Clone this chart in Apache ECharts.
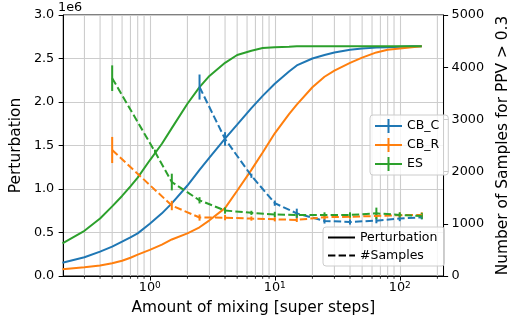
<!DOCTYPE html>
<html><head><meta charset="utf-8">
<script src="https://cdn.jsdelivr.net/npm/echarts@6/dist/echarts.min.js"></script>
<style>html,body{margin:0;padding:0;background:#fff}#c{width:518px;height:324px}</style>
</head><body><div id="c"></div>
<script>
// Perturbation (units of 1e6), left axis
const xPert = [0.2, 0.3, 0.4, 0.5, 0.6, 0.7, 0.8, 1.0, 1.25, 1.5, 2, 2.5, 3, 4, 5, 6.5, 8, 10, 13, 15, 20, 25, 30, 40, 50, 65, 80, 100, 125, 150];
const pertCBC = [0.153,0.215,0.28,0.337,0.394,0.445,0.49,0.60,0.72,0.835,1.04,1.22,1.36,1.58,1.74,1.93,2.07,2.21,2.35,2.42,2.5,2.54,2.57,2.6,2.615,2.625,2.63,2.635,2.64,2.64];
const pertCBR = [0.077,0.10,0.12,0.146,0.175,0.21,0.245,0.30,0.36,0.42,0.49,0.56,0.64,0.78,0.98,1.22,1.42,1.64,1.86,1.97,2.17,2.29,2.36,2.45,2.51,2.57,2.6,2.615,2.63,2.64];
const pertES  = [0.375,0.52,0.66,0.80,0.92,1.03,1.13,1.33,1.52,1.70,1.98,2.17,2.30,2.45,2.54,2.59,2.62,2.63,2.635,2.64,2.64,2.64,2.64,2.64,2.64,2.64,2.64,2.64,2.64,2.64];
// #Samples, right axis
const xCBC = [2.5, 4, 6.5, 10, 15, 25, 40, 65, 100, 150];
const sampCBC = [3620, 2625, 1920, 1395, 1200, 1055, 1035, 1060, 1100, 1125];
const errCBC  = [240, 130, 40, 50, 90, 50, 50, 50, 50, 40];
const xCBR = [0.5, 1.5, 2.5, 4, 6.5, 10, 15, 25, 40, 65, 100, 150];
const sampCBR = [2414, 1350, 1120, 1118, 1100, 1086, 1075, 1125, 1136, 1150, 1165, 1170];
const errCBR  = [250, 90, 60, 50, 40, 40, 40, 40, 40, 40, 50, 50];
const xES = [0.5, 1.1, 1.5, 2.5, 4, 6.5, 10, 15, 25, 40, 65, 100, 150];
const sampES = [3790, 2380, 1800, 1450, 1255, 1210, 1180, 1170, 1170, 1170, 1200, 1170, 1150];
const errES  = [245, 40, 160, 60, 60, 40, 50, 50, 50, 50, 110, 50, 60];
// minor log grid positions
const minorX = [0.3,0.4,0.5,0.6,0.7,0.8,0.9,2,3,4,5,6,7,8,9,20,30,40,50,60,70,80,90,200];
const leftTicks = [0, 0.5, 1.0, 1.5, 2.0, 2.5, 3.0];
const rightTicks = [0, 1000, 2000, 3000, 4000, 5000];
const names = ['CB_C', 'CB_R', 'ES'];
const colors = ['#1f77b4', '#ff7f0e', '#2ca02c'];

const FONT = 'DejaVu Sans';
const FS = 12.8;      // tick labels
const FSN = 15.4;     // axis titles
const FSL = 12.5;     // legend
const LW = 2.0;
const DASH = [7.4, 3.2];
const GRIDC = '#cdcdcd';
const GW = 1.1;

function zip(xs, ys) { return xs.map((x, i) => [x, ys[i]]); }
function zip3(xs, ys, es) { return xs.map((x, i) => [x, ys[i], es[i]]); }

const pert = [pertCBC, pertCBR, pertES];
const sx = [xCBC, xCBR, xES], sy = [sampCBC, sampCBR, sampES], se = [errCBC, errCBR, errES];

const series = [];
series.push({
  type: 'custom', name: 'minorgrid', xAxisIndex: 0, yAxisIndex: 0, z: 1, silent: true, clip: false,
  data: minorX.map(v => [v]),
  renderItem: function (params, api) {
    const b = api.coord([api.value(0), leftTicks[0]]);
    const t = api.coord([api.value(0), leftTicks[leftTicks.length - 1]]);
    if (b[0] > params.coordSys.x + params.coordSys.width + 0.5) return null;
    return { type: 'group', children: [
      { type: 'line', shape: { x1: b[0], y1: b[1], x2: t[0], y2: t[1] }, style: { stroke: GRIDC, lineWidth: GW } },
      { type: 'line', shape: { x1: b[0], y1: b[1], x2: b[0], y2: b[1] + 2.8 }, style: { stroke: '#000', lineWidth: 0.8 } }
    ]};
  }
});
for (let i = 0; i < 3; i++) {
  series.push({
    type: 'line', name: names[i], xAxisIndex: 0, yAxisIndex: 0, z: 3,
    data: zip(xPert, pert[i]), showSymbol: false, symbol: 'none',
    lineStyle: { color: colors[i], width: LW }, itemStyle: { color: colors[i] }
  });
}
for (let i = 0; i < 3; i++) {
  series.push({
    type: 'line', name: names[i], xAxisIndex: 0, yAxisIndex: 1, z: 4,
    data: zip(sx[i], sy[i]), showSymbol: false, symbol: 'none',
    lineStyle: { color: colors[i], width: LW, type: DASH }, itemStyle: { color: colors[i] }
  });
  series.push({
    type: 'custom', name: names[i], xAxisIndex: 0, yAxisIndex: 1, z: 4,
    data: zip3(sx[i], sy[i], se[i]),
    itemStyle: { color: colors[i] },
    renderItem: (function (c) { return function (params, api) {
      const x = api.value(0), y = api.value(1), e = api.value(2);
      const t = api.coord([x, y + e]), b = api.coord([x, y - e]);
      return { type: 'line', shape: { x1: t[0], y1: t[1], x2: b[0], y2: b[1] }, style: { stroke: c, lineWidth: LW } };
    }; })(colors[i])
  });
}
series.push({ type: 'line', name: 'Perturbation', data: [], xAxisIndex: 0, yAxisIndex: 0, symbol: 'none', lineStyle: { color: '#000', width: LW }, itemStyle: { color: '#000' } });
series.push({ type: 'line', name: '#Samples', data: [], xAxisIndex: 0, yAxisIndex: 0, symbol: 'none', lineStyle: { color: '#000', width: LW, type: DASH }, itemStyle: { color: '#000' } });

const errIcon = 'path://M0,6h27v2h-27z M12.5,0h2v14h-2z';
const solidIcon = 'path://M0,0h27v2h-27z';
const dashIcon = 'path://M0,0h7.4v2h-7.4z M10.6,0h7.4v2h-7.4z M21.2,0h5.8v2h-5.8z';

const legendBase = {
  orient: 'vertical', itemWidth: 27, itemHeight: 14, itemGap: 5, itemTextGap: 11,
  backgroundColor: 'rgba(255,255,255,0.8)', borderColor: '#cccccc', borderWidth: 1, borderRadius: 3,
  textStyle: { fontFamily: FONT, fontSize: FSL, color: '#000' },
  itemStyle: { borderWidth: 0 }, selectedMode: false
};

const chart = echarts.init(document.getElementById('c'), null, { renderer: 'canvas' });
chart.setOption({
  animation: false,
  backgroundColor: '#fff',
  grid: { left: 58, right: 59, top: 15, bottom: 48, show: true, borderColor: '#000', borderWidth: 1, backgroundColor: 'transparent' },
  graphic: [{ type: 'text', left: 58, top: 1, style: { text: '1e6', font: FS + 'px "' + FONT + '"', fill: '#000' } }],
  legend: [
    Object.assign({}, legendBase, { left: 370, top: 115, padding: [4, 9, 4, 5],
      data: names.map(n => ({ name: n, icon: errIcon })) }),
    Object.assign({}, legendBase, { left: 323, top: 227, padding: [4, 7, 4, 5],
      data: [{ name: 'Perturbation', icon: solidIcon }, { name: '#Samples', icon: dashIcon }] })
  ],
  xAxis: {
    type: 'log', logBase: 10, min: 0.203, max: 224,
    name: 'Amount of mixing [super steps]', nameLocation: 'middle', nameGap: 24,
    nameTextStyle: { fontFamily: FONT, fontSize: FSN, color: '#000' },
    axisLine: { show: true, lineStyle: { color: '#000', width: 1 } },
    axisTick: { show: true, length: 4.6, lineStyle: { color: '#000', width: 1 } },
    splitLine: { show: true, lineStyle: { color: GRIDC, width: GW } },
    axisLabel: {
      margin: 5.5, color: '#000', fontFamily: FONT, fontSize: FS, showMinLabel: false, showMaxLabel: false,
      formatter: function (v) {
        const p = Math.round(Math.log10(v));
        if (Math.abs(Math.log10(v) - p) > 1e-6) return '';
        return '{b|10}{s|' + p + '}';
      },
      rich: {
        b: { fontFamily: FONT, fontSize: FS, lineHeight: 13, color: '#000', verticalAlign: 'bottom', padding: [3, 0, 0, 0] },
        s: { fontFamily: FONT, fontSize: 9, lineHeight: 9, color: '#000', verticalAlign: 'top' }
      }
    }
  },
  yAxis: [
    { type: 'value', min: leftTicks[0], max: leftTicks[leftTicks.length - 1], interval: 0.5, position: 'left',
      name: 'Perturbation', nameLocation: 'middle', nameGap: 36, nameRotate: 90,
      nameTextStyle: { fontFamily: FONT, fontSize: FSN, color: '#000' },
      axisLine: { show: true, lineStyle: { color: '#000', width: 1 } },
      axisTick: { show: true, length: 4.6, lineStyle: { color: '#000', width: 1 } },
      splitLine: { show: true, lineStyle: { color: GRIDC, width: GW } },
      axisLabel: { margin: 9, color: '#000', fontFamily: FONT, fontSize: FS, formatter: v => v.toFixed(1) } },
    { type: 'value', min: rightTicks[0], max: rightTicks[rightTicks.length - 1], interval: 1000, position: 'right',
      name: 'Number of Samples for PPV > 0.3', nameLocation: 'middle', nameGap: 45, nameRotate: 90,
      nameTextStyle: { fontFamily: FONT, fontSize: FSN, color: '#000' },
      axisLine: { show: true, lineStyle: { color: '#000', width: 1 } },
      axisTick: { show: true, length: 4.6, lineStyle: { color: '#000', width: 1 } },
      splitLine: { show: false },
      axisLabel: { margin: 8, color: '#000', fontFamily: FONT, fontSize: FS, formatter: v => String(v) } }
  ],
  series: series
});
</script></body></html>
